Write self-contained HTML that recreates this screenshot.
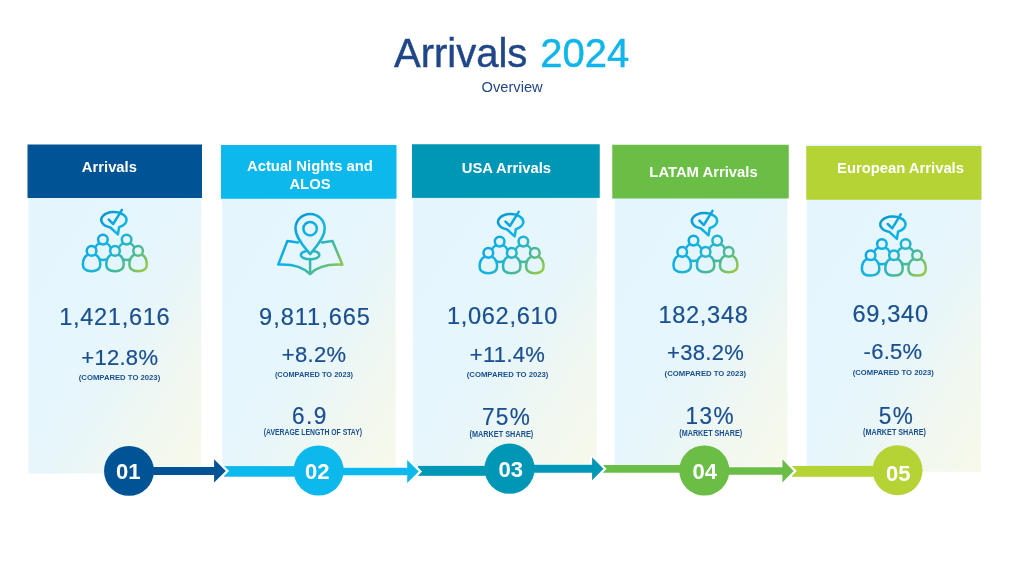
<!DOCTYPE html>
<html lang="en">
<head>
<meta charset="utf-8">
<title>Arrivals 2024 Overview</title>
<style>
html,body{margin:0;padding:0;background:#fff;}
body{width:1024px;height:576px;overflow:hidden;position:relative;font-family:"Liberation Sans",sans-serif;}
svg{position:absolute;left:0;top:0;display:block;}
text{font-family:"Liberation Sans",sans-serif;text-anchor:middle;}
.t1{font-size:40px;text-anchor:start;stroke-width:0.45px;}
.t2{font-size:14.67px;fill:#1f4788;}
.hd{font-size:14.8px;font-weight:bold;fill:#fff;}
.num{font-size:23.6px;fill:#1a4f90;letter-spacing:0.68px;stroke:#1a4f90;stroke-width:0.2px;}
.pct{font-size:22px;fill:#1a4f90;letter-spacing:0.3px;stroke:#1a4f90;stroke-width:0.2px;}
.ext{font-size:22.6px;fill:#1a4f90;letter-spacing:1.4px;stroke:#1a4f90;stroke-width:0.2px;}
.cmp{font-size:8.1px;font-weight:bold;fill:#1a4f90;}
.sub{font-size:8.7px;font-weight:bold;fill:#1a4f90;}
.cn{font-size:22.6px;font-weight:bold;fill:#fff;}
</style>
</head>
<body>
<svg width="1024" height="576" viewBox="0 0 1024 576">
<defs>
<linearGradient id="bg" x1="0" y1="0" x2="1" y2="1">
<stop offset="0" stop-color="#e4f5fd"/>
<stop offset="0.42" stop-color="#e5f6fd"/>
<stop offset="0.6" stop-color="#e9f6f8"/>
<stop offset="0.8" stop-color="#f2f8ef"/>
<stop offset="1" stop-color="#f7f9ea"/>
</linearGradient>
<linearGradient id="ig" gradientUnits="userSpaceOnUse" x1="-33" y1="-31" x2="33" y2="31">
<stop offset="0.2" stop-color="#0a96d0"/>
<stop offset="0.42" stop-color="#0eb2e6"/>
<stop offset="0.5" stop-color="#12b3e0"/>
<stop offset="0.58" stop-color="#22b4cc"/>
<stop offset="0.73" stop-color="#45b99a"/>
<stop offset="0.8" stop-color="#5cbc84"/>
<stop offset="1" stop-color="#a6cd36"/>
</linearGradient>
</defs>

<text class="t1" y="66.75"><tspan x="394" fill="#1f4788" stroke="#1f4788">Arrivals</tspan> <tspan x="540.3" fill="#10b5ea" stroke="#10b5ea">2024</tspan></text>
<text class="t2" x="512.1" y="91.75">Overview</text>
<rect x="28.3" y="197" width="172.9" height="276.6" fill="url(#bg)"/>
<rect x="27.5" y="144.5" width="174.5" height="53.5" fill="#005496"/>
<rect x="222.2" y="197.75" width="173.5" height="276.25" fill="url(#bg)"/>
<rect x="221" y="145" width="175.5" height="53.75" fill="#0db8ec"/>
<rect x="413" y="196.9" width="183.8" height="276.1" fill="url(#bg)"/>
<rect x="412" y="144.25" width="187.75" height="53.65" fill="#0097b7"/>
<rect x="614.6" y="197.5" width="172.8" height="274.8" fill="url(#bg)"/>
<rect x="612.25" y="144.75" width="176.5" height="53.75" fill="#6abd45"/>
<rect x="806.75" y="198.75" width="174.25" height="273.05" fill="url(#bg)"/>
<rect x="806.75" y="144.5" width="174.25" height="3" fill="#e6f3fc"/>
<rect x="806.25" y="146" width="175.25" height="53.75" fill="#b5d334"/>
<text class="hd" x="109.4" y="172.25">Arrivals</text>
<g transform="translate(115,241)" fill="none" stroke="url(#ig)" stroke-width="2.5" stroke-linecap="round" stroke-linejoin="round">
<path d="M-4.6 -13.5 L2.9 -6.6 L4.1 -13.9 A12.6 7.9 0 1 0 -4.6 -13.5 Z"/>
<path d="M-6.2 -21.4 L-1.8 -17 L6.9 -31.2"/>
<path fill="#e5f5fd" d="M-16.10 2.50 C-19.50 4.20 -20.80 8.20 -20.80 12.20 C-20.80 16.90 -16.90 18.90 -12.10 18.90 C-7.30 18.90 -3.40 16.90 -3.40 12.20 C-3.40 8.20 -4.70 4.20 -8.10 2.50 Z"/>
<circle fill="#e5f5fd" cx="-12.1" cy="-1.4" r="4.8"/>
<path fill="#e5f5fd" d="M7.60 2.50 C4.20 4.20 2.90 8.20 2.90 12.20 C2.90 16.90 6.80 18.90 11.60 18.90 C16.40 18.90 20.30 16.90 20.30 12.20 C20.30 8.20 19.00 4.20 15.60 2.50 Z"/>
<circle fill="#e5f5fd" cx="11.6" cy="-1.4" r="4.8"/>
<path fill="#e5f5fd" d="M-27.40 13.80 C-30.80 15.50 -32.10 19.50 -32.10 23.50 C-32.10 28.20 -28.20 30.20 -23.40 30.20 C-18.60 30.20 -14.70 28.20 -14.70 23.50 C-14.70 19.50 -16.00 15.50 -19.40 13.80 Z"/>
<circle fill="#e5f5fd" cx="-23.4" cy="9.9" r="4.8"/>
<path fill="#e5f5fd" d="M-4.00 13.80 C-7.40 15.50 -8.70 19.50 -8.70 23.50 C-8.70 28.20 -4.80 30.20 0.00 30.20 C4.80 30.20 8.70 28.20 8.70 23.50 C8.70 19.50 7.40 15.50 4.00 13.80 Z"/>
<circle fill="#e5f5fd" cx="0" cy="9.9" r="4.8"/>
<path fill="#e5f5fd" d="M19.10 13.80 C15.70 15.50 14.40 19.50 14.40 23.50 C14.40 28.20 18.30 30.20 23.10 30.20 C27.90 30.20 31.80 28.20 31.80 23.50 C31.80 19.50 30.50 15.50 27.10 13.80 Z"/>
<circle fill="#e5f5fd" cx="23.1" cy="9.9" r="4.8"/>
</g>
<text class="num" x="114.75" y="325">1,421,616</text>
<text class="pct" x="119.75" y="365">+12.8%</text>
<text class="cmp" x="119.5" y="380" textLength="81.4" lengthAdjust="spacingAndGlyphs">(COMPARED TO 2023)</text>
<text class="hd" x="309.9" y="170.5">Actual Nights and</text>
<text class="hd" x="310" y="188.75">ALOS</text>
<g transform="translate(310.1,241)" fill="none" stroke="url(#ig)" stroke-width="2.5" stroke-linecap="round" stroke-linejoin="round">
<path d="M-12 1.4 L-22.7 -0.1 L-31.8 23.5 C-18.5 22.8 -7 26 0 33 C7 26 18.5 22.8 32.3 23.7 L22.4 -0.1 L12 1.4"/>
<path d="M0 18 L0 33"/>
<ellipse cx="0" cy="14" rx="9.2" ry="4.3"/>
<path fill="#e5f5fd" d="M0 13.1 C-5 7 -14.6 -3 -14.6 -12.5 A14.6 14.6 0 0 1 14.6 -12.5 C14.6 -3 5 7 0 13.1 Z"/>
<circle cx="0" cy="-12.3" r="6.7"/>
</g>
<text class="num" x="315" y="325" style="letter-spacing:0.95px">9,811,665</text>
<text class="pct" x="314.1" y="362">+8.2%</text>
<text class="cmp" x="314.0" y="377" textLength="78.2" lengthAdjust="spacingAndGlyphs">(COMPARED TO 2023)</text>
<text class="ext" transform="translate(309.8 424.4) scale(1 1.035)">6.9</text>
<text class="sub" x="312.9" y="435" textLength="98.25" lengthAdjust="spacingAndGlyphs">(AVERAGE LENGTH OF STAY)</text>
<text class="hd" x="506.4" y="173">USA Arrivals</text>
<g transform="translate(511.75,243)" fill="none" stroke="url(#ig)" stroke-width="2.5" stroke-linecap="round" stroke-linejoin="round">
<path d="M-4.6 -13.5 L2.9 -6.6 L4.1 -13.9 A12.6 7.9 0 1 0 -4.6 -13.5 Z"/>
<path d="M-6.2 -21.4 L-1.8 -17 L6.9 -31.2"/>
<path fill="#e5f5fd" d="M-16.10 2.50 C-19.50 4.20 -20.80 8.20 -20.80 12.20 C-20.80 16.90 -16.90 18.90 -12.10 18.90 C-7.30 18.90 -3.40 16.90 -3.40 12.20 C-3.40 8.20 -4.70 4.20 -8.10 2.50 Z"/>
<circle fill="#e5f5fd" cx="-12.1" cy="-1.4" r="4.8"/>
<path fill="#e5f5fd" d="M7.60 2.50 C4.20 4.20 2.90 8.20 2.90 12.20 C2.90 16.90 6.80 18.90 11.60 18.90 C16.40 18.90 20.30 16.90 20.30 12.20 C20.30 8.20 19.00 4.20 15.60 2.50 Z"/>
<circle fill="#e5f5fd" cx="11.6" cy="-1.4" r="4.8"/>
<path fill="#e5f5fd" d="M-27.40 13.80 C-30.80 15.50 -32.10 19.50 -32.10 23.50 C-32.10 28.20 -28.20 30.20 -23.40 30.20 C-18.60 30.20 -14.70 28.20 -14.70 23.50 C-14.70 19.50 -16.00 15.50 -19.40 13.80 Z"/>
<circle fill="#e5f5fd" cx="-23.4" cy="9.9" r="4.8"/>
<path fill="#e5f5fd" d="M-4.00 13.80 C-7.40 15.50 -8.70 19.50 -8.70 23.50 C-8.70 28.20 -4.80 30.20 0.00 30.20 C4.80 30.20 8.70 28.20 8.70 23.50 C8.70 19.50 7.40 15.50 4.00 13.80 Z"/>
<circle fill="#e5f5fd" cx="0" cy="9.9" r="4.8"/>
<path fill="#e5f5fd" d="M19.10 13.80 C15.70 15.50 14.40 19.50 14.40 23.50 C14.40 28.20 18.30 30.20 23.10 30.20 C27.90 30.20 31.80 28.20 31.80 23.50 C31.80 19.50 30.50 15.50 27.10 13.80 Z"/>
<circle fill="#e5f5fd" cx="23.1" cy="9.9" r="4.8"/>
</g>
<text class="num" x="502.5" y="324">1,062,610</text>
<text class="pct" x="507.5" y="362">+11.4%</text>
<text class="cmp" x="507.6" y="377" textLength="81.6" lengthAdjust="spacingAndGlyphs">(COMPARED TO 2023)</text>
<text class="ext" transform="translate(506.6 425) scale(1 1.035)">75%</text>
<text class="sub" x="501.4" y="436.75" textLength="63.75" lengthAdjust="spacingAndGlyphs">(MARKET SHARE)</text>
<text class="hd" x="703.5" y="176.75">LATAM Arrivals</text>
<g transform="translate(705.6,242)" fill="none" stroke="url(#ig)" stroke-width="2.5" stroke-linecap="round" stroke-linejoin="round">
<path d="M-4.6 -13.5 L2.9 -6.6 L4.1 -13.9 A12.6 7.9 0 1 0 -4.6 -13.5 Z"/>
<path d="M-6.2 -21.4 L-1.8 -17 L6.9 -31.2"/>
<path fill="#e5f5fd" d="M-16.10 2.50 C-19.50 4.20 -20.80 8.20 -20.80 12.20 C-20.80 16.90 -16.90 18.90 -12.10 18.90 C-7.30 18.90 -3.40 16.90 -3.40 12.20 C-3.40 8.20 -4.70 4.20 -8.10 2.50 Z"/>
<circle fill="#e5f5fd" cx="-12.1" cy="-1.4" r="4.8"/>
<path fill="#e5f5fd" d="M7.60 2.50 C4.20 4.20 2.90 8.20 2.90 12.20 C2.90 16.90 6.80 18.90 11.60 18.90 C16.40 18.90 20.30 16.90 20.30 12.20 C20.30 8.20 19.00 4.20 15.60 2.50 Z"/>
<circle fill="#e5f5fd" cx="11.6" cy="-1.4" r="4.8"/>
<path fill="#e5f5fd" d="M-27.40 13.80 C-30.80 15.50 -32.10 19.50 -32.10 23.50 C-32.10 28.20 -28.20 30.20 -23.40 30.20 C-18.60 30.20 -14.70 28.20 -14.70 23.50 C-14.70 19.50 -16.00 15.50 -19.40 13.80 Z"/>
<circle fill="#e5f5fd" cx="-23.4" cy="9.9" r="4.8"/>
<path fill="#e5f5fd" d="M-4.00 13.80 C-7.40 15.50 -8.70 19.50 -8.70 23.50 C-8.70 28.20 -4.80 30.20 0.00 30.20 C4.80 30.20 8.70 28.20 8.70 23.50 C8.70 19.50 7.40 15.50 4.00 13.80 Z"/>
<circle fill="#e5f5fd" cx="0" cy="9.9" r="4.8"/>
<path fill="#e5f5fd" d="M19.10 13.80 C15.70 15.50 14.40 19.50 14.40 23.50 C14.40 28.20 18.30 30.20 23.10 30.20 C27.90 30.20 31.80 28.20 31.80 23.50 C31.80 19.50 30.50 15.50 27.10 13.80 Z"/>
<circle fill="#e5f5fd" cx="23.1" cy="9.9" r="4.8"/>
</g>
<text class="num" x="703.5" y="323.25">182,348</text>
<text class="pct" x="705.6" y="360">+38.2%</text>
<text class="cmp" x="705.4" y="376.25" textLength="81.6" lengthAdjust="spacingAndGlyphs">(COMPARED TO 2023)</text>
<text class="ext" transform="translate(710.3 424.3) scale(1 1.035)">13%</text>
<text class="sub" x="710.75" y="436.25" textLength="63" lengthAdjust="spacingAndGlyphs">(MARKET SHARE)</text>
<text class="hd" x="900.5" y="173">European Arrivals</text>
<g transform="translate(894,245.4)" fill="none" stroke="url(#ig)" stroke-width="2.5" stroke-linecap="round" stroke-linejoin="round">
<path d="M-4.6 -13.5 L2.9 -6.6 L4.1 -13.9 A12.6 7.9 0 1 0 -4.6 -13.5 Z"/>
<path d="M-6.2 -21.4 L-1.8 -17 L6.9 -31.2"/>
<path fill="#e5f5fd" d="M-16.10 2.50 C-19.50 4.20 -20.80 8.20 -20.80 12.20 C-20.80 16.90 -16.90 18.90 -12.10 18.90 C-7.30 18.90 -3.40 16.90 -3.40 12.20 C-3.40 8.20 -4.70 4.20 -8.10 2.50 Z"/>
<circle fill="#e5f5fd" cx="-12.1" cy="-1.4" r="4.8"/>
<path fill="#e5f5fd" d="M7.60 2.50 C4.20 4.20 2.90 8.20 2.90 12.20 C2.90 16.90 6.80 18.90 11.60 18.90 C16.40 18.90 20.30 16.90 20.30 12.20 C20.30 8.20 19.00 4.20 15.60 2.50 Z"/>
<circle fill="#e5f5fd" cx="11.6" cy="-1.4" r="4.8"/>
<path fill="#e5f5fd" d="M-27.40 13.80 C-30.80 15.50 -32.10 19.50 -32.10 23.50 C-32.10 28.20 -28.20 30.20 -23.40 30.20 C-18.60 30.20 -14.70 28.20 -14.70 23.50 C-14.70 19.50 -16.00 15.50 -19.40 13.80 Z"/>
<circle fill="#e5f5fd" cx="-23.4" cy="9.9" r="4.8"/>
<path fill="#e5f5fd" d="M-4.00 13.80 C-7.40 15.50 -8.70 19.50 -8.70 23.50 C-8.70 28.20 -4.80 30.20 0.00 30.20 C4.80 30.20 8.70 28.20 8.70 23.50 C8.70 19.50 7.40 15.50 4.00 13.80 Z"/>
<circle fill="#e5f5fd" cx="0" cy="9.9" r="4.8"/>
<path fill="#e5f5fd" d="M19.10 13.80 C15.70 15.50 14.40 19.50 14.40 23.50 C14.40 28.20 18.30 30.20 23.10 30.20 C27.90 30.20 31.80 28.20 31.80 23.50 C31.80 19.50 30.50 15.50 27.10 13.80 Z"/>
<circle fill="#e5f5fd" cx="23.1" cy="9.9" r="4.8"/>
</g>
<text class="num" x="890.6" y="321.5">69,340</text>
<text class="pct" x="893" y="358.75">-6.5%</text>
<text class="cmp" x="893.25" y="375" textLength="81" lengthAdjust="spacingAndGlyphs">(COMPARED TO 2023)</text>
<text class="ext" transform="translate(896.4 423.9) scale(1 1.035)">5%</text>
<text class="sub" x="894.5" y="434.7" textLength="63" lengthAdjust="spacingAndGlyphs">(MARKET SHARE)</text>
<rect x="224.0" y="466.1" width="95.0" height="10.6" fill="#0db8ec"/>
<rect x="418.0" y="465.9" width="91.5" height="9.9" fill="#0097b7"/>
<rect x="602.0" y="465.0" width="102.25" height="7.7" fill="#6abd45"/>
<rect x="792.0" y="465.9" width="105.5" height="10.9" fill="#b5d334"/>
<path d="M129 467.1 L214.1 467.1 L214.1 474.9 L129 474.9 Z" fill="#fff" stroke="#fff" stroke-width="1.8"/>
<path d="M214.1 459.3 L225.8 470.9 L214.1 482.5 Z" fill="#fff" stroke="#fff" stroke-width="4.6" stroke-linejoin="miter" stroke-miterlimit="1.5"/>
<path d="M129 467.1 L214.1 467.1 L214.1 459.3 L225.8 470.9 L214.1 482.5 L214.1 474.9 L129 474.9 Z" fill="#005496"/>
<path d="M319 467.8 L407.2 467.8 L407.2 475.3 L319 475.3 Z" fill="#fff" stroke="#fff" stroke-width="1.8"/>
<path d="M407.2 460.0 L418.8 471.5 L407.2 483.0 Z" fill="#fff" stroke="#fff" stroke-width="4.6" stroke-linejoin="miter" stroke-miterlimit="1.5"/>
<path d="M319 467.8 L407.2 467.8 L407.2 460.0 L418.8 471.5 L407.2 483.0 L407.2 475.3 L319 475.3 Z" fill="#0db8ec"/>
<path d="M509.5 464.8 L592.1 464.8 L592.1 472.7 L509.5 472.7 Z" fill="#fff" stroke="#fff" stroke-width="1.8"/>
<path d="M592.1 457.3 L603.5 468.75 L592.1 480.2 Z" fill="#fff" stroke="#fff" stroke-width="4.6" stroke-linejoin="miter" stroke-miterlimit="1.5"/>
<path d="M509.5 464.8 L592.1 464.8 L592.1 457.3 L603.5 468.75 L592.1 480.2 L592.1 472.7 L509.5 472.7 Z" fill="#0097b7"/>
<path d="M704.25 467.2 L782.4 467.2 L782.4 474.7 L704.25 474.7 Z" fill="#fff" stroke="#fff" stroke-width="1.8"/>
<path d="M782.4 459.3 L793.6 470.9 L782.4 482.5 Z" fill="#fff" stroke="#fff" stroke-width="4.6" stroke-linejoin="miter" stroke-miterlimit="1.5"/>
<path d="M704.25 467.2 L782.4 467.2 L782.4 459.3 L793.6 470.9 L782.4 482.5 L782.4 474.7 L704.25 474.7 Z" fill="#6abd45"/>
<circle cx="129.0" cy="470.9" r="24.95" fill="#005496"/>
<text class="cn" x="128.2" y="479.1" textLength="24.6" lengthAdjust="spacingAndGlyphs">01</text>
<circle cx="318.6" cy="470.5" r="25.1" fill="#0db8ec"/>
<text class="cn" x="317.35" y="479.1" textLength="24.6" lengthAdjust="spacingAndGlyphs">02</text>
<circle cx="509.55" cy="468.7" r="25.1" fill="#0097b7"/>
<text class="cn" x="510.7" y="477.1" textLength="24.6" lengthAdjust="spacingAndGlyphs">03</text>
<circle cx="704.3" cy="470.5" r="25.1" fill="#6abd45"/>
<text class="cn" x="704.7" y="479.1" textLength="24.6" lengthAdjust="spacingAndGlyphs">04</text>
<circle cx="897.55" cy="470.2" r="25.0" fill="#b5d334"/>
<text class="cn" x="898.2" y="480.8" textLength="24.6" lengthAdjust="spacingAndGlyphs">05</text>
</svg>
</body>
</html>
